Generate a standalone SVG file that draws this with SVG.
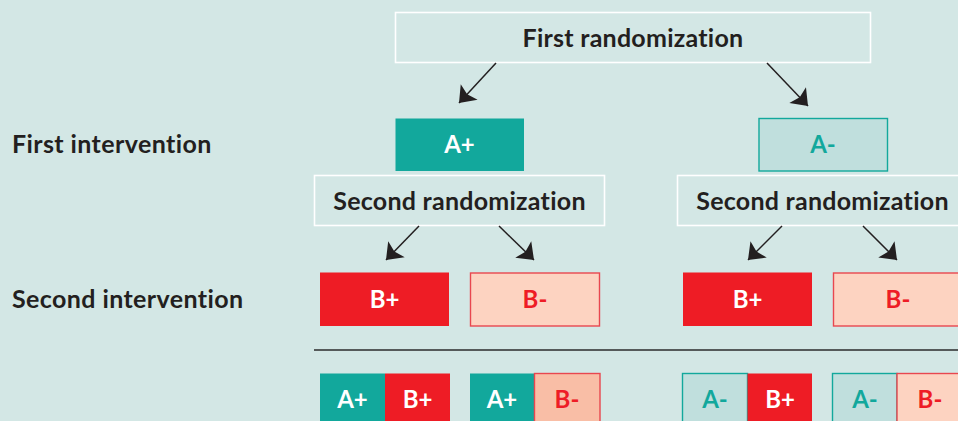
<svg xmlns="http://www.w3.org/2000/svg" width="958" height="421" viewBox="0 0 958 421">
<defs>
<style>
.bg{fill:#d3e7e5}
.frame{fill:none;stroke:#ffffff;stroke-width:1.6}
text{font-variant-ligatures:none;font-feature-settings:"liga" 0}
.ttl{font-family:Lato,"Liberation Sans",sans-serif;font-weight:700;font-size:25px;fill:#231f20;letter-spacing:0.25px}
.lbl{font-family:Lato,"Liberation Sans",sans-serif;font-weight:700;font-size:25px;fill:#231f20;letter-spacing:0.4px}
.tag{font-family:Lato,"Liberation Sans",sans-serif;font-weight:700;font-size:24px;text-anchor:middle}
.ap{fill:#12a89c}
.am{fill:#c0dfdd;stroke:#12a89c;stroke-width:1.4}
.bp{fill:#ee1c25}
.bm{fill:#fdd3c1;stroke:#e8474f;stroke-width:1.4}
.bm2{fill:#f9bea6;stroke:#e8474f;stroke-width:1.4}
.w{fill:#ffffff}
.t{fill:#12a89c}
.r{fill:#ee1c25}
.conn line{stroke:#231f20;stroke-width:1.5;marker-end:url(#ah)}
</style>
<marker id="ah" markerUnits="userSpaceOnUse" markerWidth="30" markerHeight="30" viewBox="-16 -15 18 30" refX="0" refY="0" orient="auto">
<path d="M0,0 L-15,-11.5 L-12,0 L-15,11.5 Z" fill="#231f20"/>
</marker>
</defs>
<rect class="bg" x="0" y="0" width="958" height="421"/>

<g id="label-first-intervention"><text class="lbl" x="12" y="153">First intervention</text></g>
<g id="label-second-intervention"><text class="lbl" x="12" y="308">Second intervention</text></g>

<g id="first-randomization">
<rect class="frame" x="395.5" y="12.5" width="475" height="50"/>
<text class="ttl" x="633" y="47" text-anchor="middle">First randomization</text>
</g>

<g id="a-plus">
<rect class="ap" x="395.5" y="118.5" width="128.5" height="52.5"/>
<text class="tag w" x="459.5" y="153">A+</text>
</g>
<g id="a-minus">
<rect class="am" x="759" y="118.5" width="128.5" height="52.5"/>
<text class="tag t" x="823" y="153">A-</text>
</g>

<g id="second-randomization-left">
<rect class="frame" x="314.5" y="175.5" width="290" height="50"/>
<text class="ttl" x="459.5" y="210" text-anchor="middle">Second randomization</text>
</g>
<g id="second-randomization-right">
<rect class="frame" x="677.5" y="175.5" width="290" height="50"/>
<text class="ttl" x="822.5" y="210" text-anchor="middle">Second randomization</text>
</g>

<g id="b-plus-left">
<rect class="bp" x="320" y="272.5" width="129" height="53.5"/>
<text class="tag w" x="384.5" y="308">B+</text>
</g>
<g id="b-minus-left">
<rect class="bm" x="470.5" y="273" width="129" height="53"/>
<text class="tag r" x="535" y="308">B-</text>
</g>
<g id="b-plus-right">
<rect class="bp" x="683" y="272.5" width="129" height="53.5"/>
<text class="tag w" x="747.5" y="308">B+</text>
</g>
<g id="b-minus-right">
<rect class="bm" x="833.5" y="273" width="129" height="53"/>
<text class="tag r" x="898" y="308">B-</text>
</g>

<g id="divider"><line x1="314" y1="350" x2="958" y2="350" stroke="#555a5a" stroke-width="1.8"/></g>

<g id="combo-aplus-bplus">
<rect class="ap" x="320" y="373.5" width="65" height="60"/>
<rect class="bp" x="385" y="373.5" width="65" height="60"/>
<text class="tag w" x="352.5" y="408">A+</text>
<text class="tag w" x="417.5" y="408">B+</text>
</g>
<g id="combo-aplus-bminus">
<rect class="ap" x="470" y="373.5" width="64.5" height="60"/>
<rect class="bm2" x="534.5" y="373.5" width="65.5" height="60"/>
<text class="tag w" x="502" y="408">A+</text>
<text class="tag r" x="567" y="408">B-</text>
</g>
<g id="combo-aminus-bplus">
<rect class="am" x="682.5" y="373.5" width="65" height="60"/>
<rect class="bp" x="747.5" y="373.5" width="64.5" height="60"/>
<text class="tag t" x="715" y="408">A-</text>
<text class="tag w" x="780" y="408">B+</text>
</g>
<g id="combo-aminus-bminus">
<rect class="am" x="832.5" y="373.5" width="64.5" height="60"/>
<rect class="bm" x="897" y="373.5" width="65" height="60"/>
<text class="tag t" x="865" y="408">A-</text>
<text class="tag r" x="930" y="408">B-</text>
</g>

<g id="connectors" class="conn">
<line x1="496" y1="63" x2="459" y2="103"/>
<line x1="767" y1="63" x2="808" y2="106"/>
<line x1="419" y1="226" x2="386" y2="260"/>
<line x1="499" y1="226" x2="534" y2="260"/>
<line x1="782" y1="226" x2="748" y2="260"/>
<line x1="863" y1="226" x2="897" y2="260"/>
</g>
</svg>
